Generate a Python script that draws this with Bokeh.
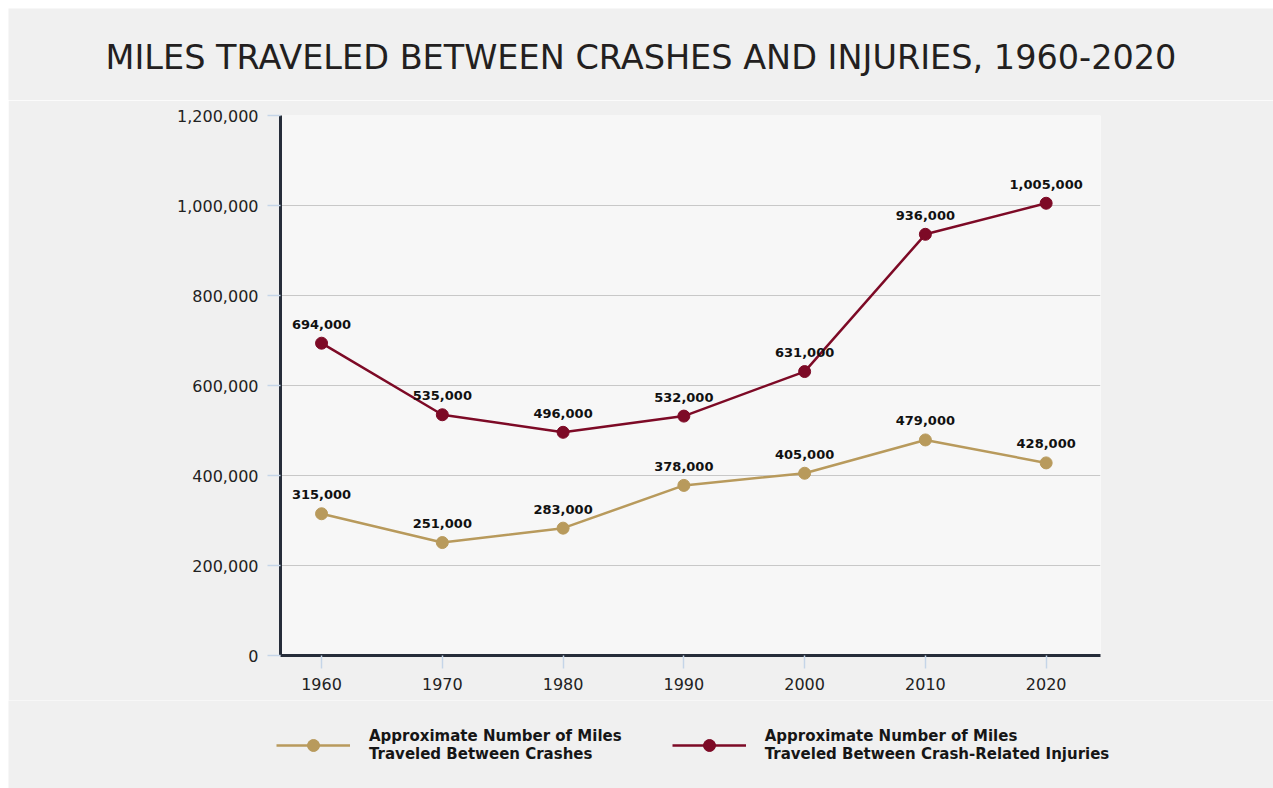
from bokeh.plotting import figure
from bokeh.layouts import column, row
from bokeh.models import (Range1d, FixedTicker, NumeralTickFormatter, Legend, LegendItem,
                          ColumnDataSource, Label)
from bokeh.core.properties import value
from bokeh.embed import file_html
from bokeh.resources import INLINE

years = [1960, 1970, 1980, 1990, 2000, 2010, 2020]
crashes = [315000, 251000, 283000, 378000, 405000, 479000, 428000]
injuries = [694000, 535000, 496000, 532000, 631000, 936000, 1005000]
y_ticks = [0, 200000, 400000, 600000, 800000, 1000000, 1200000]
title_text = "MILES TRAVELED BETWEEN CRASHES AND INJURIES, 1960-2020"
crash_label = "Approximate Number of Miles\nTraveled Between Crashes"
injury_label = "Approximate Number of Miles\nTraveled Between Crash-Related Injuries"

TAN = "#b89a5c"
MAROON = "#7d0a26"
BG = "#f0f0f0"
FONT = "DejaVu Sans"


def strip_figure(h):
    f = figure(width=1265, height=h, output_backend="svg", toolbar_location=None,
               x_range=Range1d(0, 1), y_range=Range1d(0, 1), min_border=0,
               x_axis_location=None, y_axis_location=None)
    f.background_fill_color = BG
    f.border_fill_color = BG
    f.outline_line_color = None
    f.grid.visible = False
    return f


# ---- title strip ----
t = strip_figure(92)
t.add_layout(Label(x=632.5, y=43, x_units="screen", y_units="screen", text=title_text,
                   text_align="center", text_baseline="middle", text_font=FONT,
                   text_font_size="33.5px", text_color="#231f20"))

# ---- main chart ----
p = figure(width=1265, height=600, output_backend="svg", toolbar_location=None,
           x_range=Range1d(1956.6, 2024.5), y_range=Range1d(0, 1200000),
           min_border_left=272, min_border_right=173, min_border_top=15,
           min_border_bottom=45, margin=(0, 0, 0, 8))
p.background_fill_color = "#f7f7f7"
p.border_fill_color = BG
p.outline_line_color = None

for ax in (p.xaxis[0], p.yaxis[0]):
    ax.axis_line_color = "#262d3a"
    ax.axis_line_width = 3
    ax.major_tick_line_color = "#c5d5e8"
    ax.major_tick_line_width = 1.5
    ax.major_tick_in = 0
    ax.major_tick_out = 13
    ax.minor_tick_line_color = None
    ax.major_label_text_font = FONT
    ax.major_label_text_font_size = "16px"
    ax.major_label_text_color = "#222222"
    ax.major_label_standoff = 9
p.xaxis.ticker = FixedTicker(ticks=years)
p.yaxis.ticker = FixedTicker(ticks=y_ticks)
p.yaxis.formatter = NumeralTickFormatter(format="0,0")

p.xgrid.grid_line_color = None
p.ygrid.ticker = FixedTicker(ticks=y_ticks[1:-1])
p.ygrid.grid_line_color = "#c8c8c8"
p.ygrid.grid_line_width = 1

src_c = ColumnDataSource(dict(x=years, y=crashes, t=[f"{v:,}" for v in crashes]))
src_i = ColumnDataSource(dict(x=years, y=injuries, t=[f"{v:,}" for v in injuries]))

p.line("x", "y", source=src_c, line_color=TAN, line_width=2.5)
p.scatter("x", "y", source=src_c, size=12, fill_color=TAN, line_color=TAN)
p.line("x", "y", source=src_i, line_color=MAROON, line_width=2.5)
p.scatter("x", "y", source=src_i, size=12, fill_color=MAROON, line_color=MAROON)

for src in (src_c, src_i):
    p.text("x", "y", text="t", source=src, text_align="center", text_baseline="middle",
           y_offset=-19, text_font=value(FONT), text_font_size="13px",
           text_font_style="bold", text_color="#111111")

# ---- legend strip ----
q = strip_figure(88)
# placeholder renderers (points lie outside the visible range) that give the legend its glyphs
dummy_c = ColumnDataSource(dict(x=[-5], y=[-5]))
dummy_i = ColumnDataSource(dict(x=[-5], y=[-5]))
lc = q.line("x", "y", source=dummy_c, line_color=TAN, line_width=2.5)
mc = q.scatter("x", "y", source=dummy_c, size=12, fill_color=TAN, line_color=TAN)
li = q.line("x", "y", source=dummy_i, line_color=MAROON, line_width=2.5)
mi = q.scatter("x", "y", source=dummy_i, size=12, fill_color=MAROON, line_color=MAROON)

legend = Legend(items=[LegendItem(label=crash_label, renderers=[lc, mc]),
                       LegendItem(label=injury_label, renderers=[li, mi])],
                orientation="horizontal", location=(268, 25))
legend.glyph_width = 74
legend.glyph_height = 30
legend.label_standoff = 19
legend.spacing = 50
legend.padding = 0
legend.margin = 0
legend.border_line_color = None
legend.background_fill_alpha = 0
legend.label_text_font = FONT
legend.label_text_font_size = "15px"
legend.label_text_font_style = "bold"
legend.label_text_color = "#161616"
legend.label_text_line_height = 1.55
q.add_layout(legend, "center")

layout = column(row(t, margin=(8, 0, 0, 8)), p, row(q, margin=(0, 0, 0, 8)), spacing=0)
open("out.html", "w").write(file_html(layout, INLINE))
